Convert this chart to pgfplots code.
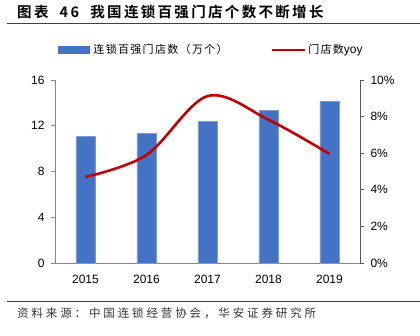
\documentclass[border=0pt]{standalone}
\usepackage{pgfplots}
\pgfplotsset{compat=1.18}
\usepackage{fontspec}
\setmainfont{Liberation Sans}
\newfontfamily\lat{Liberation Sans}
\newfontfamily\cjk{Noto Sans CJK SC}
\newfontfamily\cjkls[LetterSpace=12]{Noto Sans CJK SC}
\newfontfamily\cjksrc[LetterSpace=25]{Noto Sans CJK SC}
\newfontfamily\cjktitle[LetterSpace=16]{Noto Sans CJK SC Bold}
\definecolor{barblue}{HTML}{4472C4}
\definecolor{linered}{HTML}{C00000}
\definecolor{axgray}{HTML}{868686}
\begin{document}
\begin{tikzpicture}[x=1pt,y=1pt]
\path[use as bounding box] (0,0) rectangle (420,335);
% title
\node[anchor=west, inner sep=0] at (17,323) {\fontsize{14.5}{16}\selectfont\cjktitle 图表\ \ 46\ \ 我国连锁百强门店个数不断增长};
\draw[black!75, line width=0.9pt] (7,312) -- (420,312);
% source
\draw[black!75, line width=0.9pt] (7,34) -- (420,34);
\node[anchor=west, inner sep=0] at (17,22) {\fontsize{11.5}{13}\selectfont\cjksrc\color{black!80} 资料来源：中国连锁经营协会，华安证券研究所};

\begin{axis}[
  at={(55pt,72pt)}, anchor=south west,
  scale only axis, width=305pt, height=183pt,
  xmin=-0.5, xmax=4.5, ymin=0, ymax=16,
  axis y line*=left, axis x line*=bottom,
  axis line style={axgray, line width=0.8pt},
  ytick={0,4,8,12,16},
  xtick={0,1,2,3,4},
  xticklabels={2015,2016,2017,2018,2019},
  xtick style={draw=none},
  extra x ticks={-0.5,0.5,1.5,2.5,3.5,4.5},
  extra x tick labels={},
  extra x tick style={tick style={axgray, line width=0.8pt}},
  tick align=outside,
  major tick length=4pt,
  ytick style={axgray, line width=0.8pt},
  tick label style={font=\fontsize{12}{14}\selectfont},
  /pgf/number format/assume math mode=true,
  yticklabel style={xshift=-3pt},
  xticklabel style={yshift=-5pt},
  ybar, bar width=19.3pt,
]
\addplot[fill=barblue, draw=barblue!70!white, line width=0.4pt] coordinates {(0,11.07) (1,11.36) (2,12.41) (3,13.37) (4,14.16)};
\end{axis}

\begin{axis}[
  at={(55pt,72pt)}, anchor=south west,
  scale only axis, width=305pt, height=183pt,
  xmin=-0.5, xmax=4.5, ymin=0, ymax=10,
  axis y line*=right, axis x line=none,
  axis line style={black!65, line width=0.8pt},
  ytick={0,2,4,6,8,10},
  yticklabels={0\%,2\%,4\%,6\%,8\%,10\%},
  tick align=outside,
  major tick length=4pt,
  ytick style={black!65, line width=0.8pt},
  tick label style={font=\fontsize{12}{14}\selectfont},
  yticklabel style={xshift=3pt},
  legend columns=2,
  legend style={at={(0.01,1.165)}, anchor=west, draw=none, fill=none,
    font=\fontsize{11}{13}\selectfont\cjkls,
    /tikz/every even column/.append style={column sep=41pt},
    inner sep=0pt, outer sep=0pt},
  legend cell align=left,
]
\addlegendimage{legend image code/.code={\fill[barblue] (0pt,-3.5pt) rectangle (31pt,3.5pt);}}
\addlegendentry{\hspace{2pt}连锁百强门店数（万个）}
\addplot[smooth, tension=0.55, color=linered, line width=2.6pt,
  legend image code/.code={\draw[linered, line width=2.6pt] (0pt,0pt) -- (33pt,0pt);}]
  coordinates {(0,4.70) (1,5.90) (2,9.12) (3,7.83) (4,5.96)};
\addlegendentry{门店数{\lat\fontsize{12}{13}\selectfont yoy}}
\end{axis}
\end{tikzpicture}
\end{document}
